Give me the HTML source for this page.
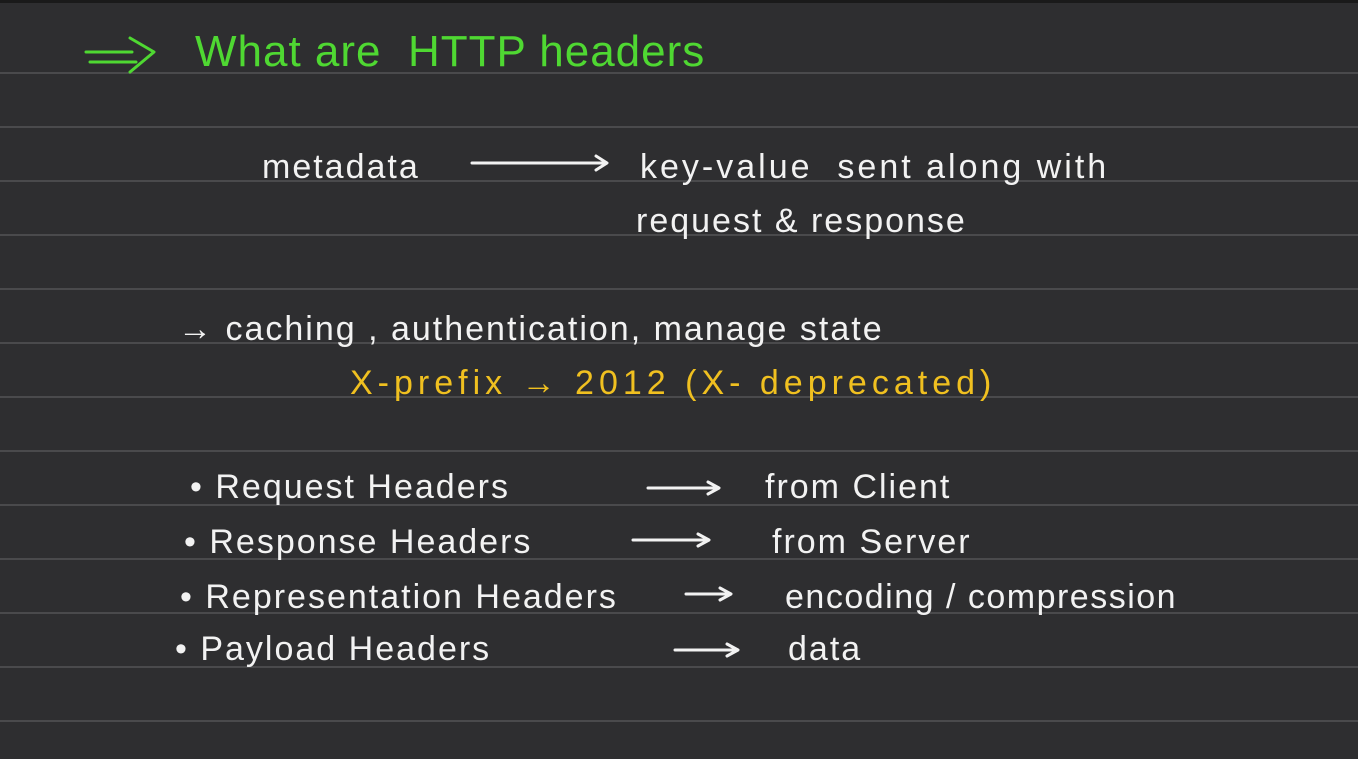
<!DOCTYPE html><html><head><style>
body{margin:0;width:1358px;height:759px;background:#2e2e30;position:relative;overflow:hidden;font-family:"Liberation Sans",sans-serif}
.l{position:absolute;left:0;width:1358px;height:2px;background:#4a4a4c}
.t{position:absolute;white-space:nowrap;color:#f2f2f2;font-size:34px;font-weight:300;letter-spacing:2px;line-height:1}
.g{color:#4fd832}.y{color:#f0c020}
svg{position:absolute;left:0;top:0}
</style></head><body>
<div style="position:absolute;top:0;left:0;width:1358px;height:3px;background:#1a1a1a"></div>
<div class="l" style="top:72px"></div><div class="l" style="top:126px"></div><div class="l" style="top:180px"></div><div class="l" style="top:234px"></div><div class="l" style="top:288px"></div><div class="l" style="top:342px"></div><div class="l" style="top:396px"></div><div class="l" style="top:450px"></div><div class="l" style="top:504px"></div><div class="l" style="top:558px"></div><div class="l" style="top:612px"></div><div class="l" style="top:666px"></div><div class="l" style="top:720px"></div>
<svg width="1358" height="759" fill="none" stroke-width="3" stroke-linecap="round" stroke-linejoin="round">
<g stroke="#4fd832"><path d="M86 52H132M90 62H136M130 38L154 52L130 72"/></g>
<g stroke="#f2f2f2">
<path d="M472 163H606M596 156L607 163L596 170"/>
<path d="M648 488H718M708 482L719 488L708 494"/>
<path d="M633 540H708M698 534L709 540L698 546"/>
<path d="M686 594H730M720 588L731 594L720 600"/>
<path d="M675 650H737M727 644L738 650L727 656"/>
</g>
</svg>
<div class="t g" style="left:195px;top:30px;font-size:44px;letter-spacing:1px">What are &nbsp;HTTP headers</div>
<div class="t" style="left:262px;top:150px">metadata</div>
<div class="t" style="left:640px;top:150px;letter-spacing:3px">key-value &nbsp;sent along with</div>
<div class="t" style="left:636px;top:204px">request &amp; response</div>
<div class="t" style="left:178px;top:312px">→ caching , authentication, manage state</div>
<div class="t y" style="left:350px;top:366px;letter-spacing:5px">X-prefix → 2012 (X- deprecated)</div>
<div class="t" style="left:190px;top:470px">• Request Headers</div>
<div class="t" style="left:765px;top:470px">from Client</div>
<div class="t" style="left:184px;top:525px">• Response Headers</div>
<div class="t" style="left:772px;top:525px">from Server</div>
<div class="t" style="left:180px;top:580px">• Representation Headers</div>
<div class="t" style="left:785px;top:580px;letter-spacing:1.5px">encoding / compression</div>
<div class="t" style="left:175px;top:632px">• Payload Headers</div>
<div class="t" style="left:788px;top:632px">data</div>
</body></html>
